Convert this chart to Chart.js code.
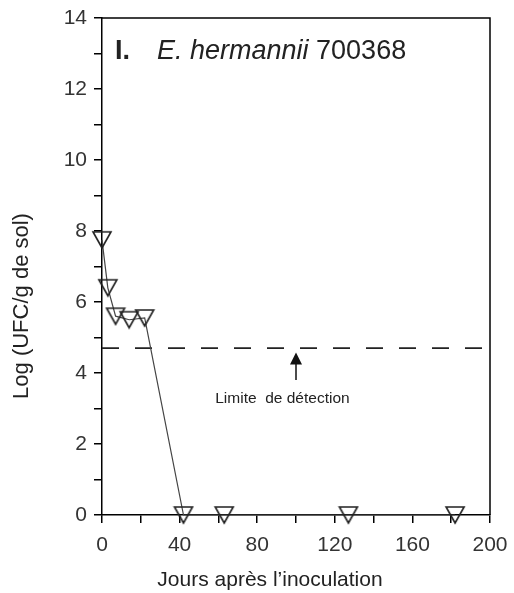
<!DOCTYPE html>
<html>
<head>
<meta charset="utf-8">
<script src="https://cdn.jsdelivr.net/npm/chart.js@4.4.0/dist/chart.umd.min.js"></script>
<style>
  html, body { margin: 0; padding: 0; background: #fff; }
  #wrap { width: 514px; height: 593px; }
</style>
</head>
<body>
<div id="wrap"><canvas id="chart" width="514" height="593"></canvas></div>
<script>
// --- data ---
const days = [0, 3, 7, 14, 22, 42, 63, 127, 182];
const logCfu = [7.75, 6.4, 5.6, 5.5, 5.55, 0, 0, 0, 0];
const detectionLimit = 4.7;
const xTicks = [0, 40, 80, 120, 160, 200];
const yTicks = [0, 2, 4, 6, 8, 10, 12, 14];

// arrow + note for the detection limit
const arrowX = 100, arrowFrom = 3.8, arrowTo = 4.58;
const noteX = 93, noteY = 3.27;
const noteText = 'Limite  de détection';

const xTitle = 'Jours après l\u2019inoculation';
const yTitle = 'Log (UFC/g de sol)';

const TEXT = '#222';
const FONT = 'Liberation Sans, Arial, sans-serif';

// open down-pointing triangle, centred on its bounding box
function makeTriangle() {
  const c = document.createElement('canvas');
  c.width = 22; c.height = 20;
  const g = c.getContext('2d');
  g.strokeStyle = '#222';
  g.lineWidth = 1.6;
  g.beginPath();
  g.moveTo(2, 2);
  g.lineTo(20, 2);
  g.lineTo(11, 18);
  g.closePath();
  g.stroke();
  return c;
}

// frame, titles, arrow and note
const extras = {
  id: 'extras',
  afterDatasetsDraw(chart) {
    const { ctx, chartArea: a, scales: { x, y } } = chart;
    ctx.save();
    // top and right edges of the box
    ctx.strokeStyle = '#000';
    ctx.lineWidth = 1.5;
    ctx.beginPath();
    ctx.moveTo(a.left, a.top);
    ctx.lineTo(a.right, a.top);
    ctx.lineTo(a.right, a.bottom);
    ctx.stroke();

    // panel title
    ctx.fillStyle = TEXT;
    ctx.textBaseline = 'alphabetic';
    ctx.textAlign = 'left';
    let tx = a.left + 13, ty = a.top + 41;
    ctx.font = 'bold 27px ' + FONT;
    ctx.fillText('I.', tx, ty);
    tx = a.left + 55;
    ctx.font = 'italic 27px ' + FONT;
    ctx.fillText('E. hermannii', tx, ty);
    tx += ctx.measureText('E. hermannii ').width;
    ctx.font = '27px ' + FONT;
    ctx.fillText('700368', tx, ty);

    // axis titles (sit a little off-centre in the original)
    ctx.textAlign = 'center';
    ctx.textBaseline = 'middle';
    ctx.font = '21px ' + FONT;
    ctx.fillText(xTitle, a.left + 168, a.bottom + 65);
    ctx.save();
    ctx.translate(22, a.bottom - 209);
    ctx.rotate(-Math.PI / 2);
    ctx.font = '22px ' + FONT;
    ctx.fillText(yTitle, 0, 0);
    ctx.restore();

    // arrow
    const ax = x.getPixelForValue(arrowX);
    const y0 = y.getPixelForValue(arrowFrom);
    const y1 = y.getPixelForValue(arrowTo);
    ctx.strokeStyle = '#111';
    ctx.lineWidth = 1.5;
    ctx.beginPath();
    ctx.moveTo(ax, y0);
    ctx.lineTo(ax, y1 + 8);
    ctx.stroke();
    ctx.fillStyle = '#111';
    ctx.beginPath();
    ctx.moveTo(ax, y1);
    ctx.lineTo(ax - 6, y1 + 12);
    ctx.lineTo(ax + 6, y1 + 12);
    ctx.closePath();
    ctx.fill();

    // note
    ctx.fillStyle = TEXT;
    ctx.font = '15.5px ' + FONT;
    ctx.fillText(noteText, x.getPixelForValue(noteX), y.getPixelForValue(noteY));
    ctx.restore();
  }
};

new Chart(document.getElementById('chart'), {
  type: 'scatter',
  data: {
    datasets: [
      {
        label: 'E. hermannii 700368',
        data: days.map((d, i) => ({ x: d, y: logCfu[i] })),
        showLine: true,
        borderColor: '#444',
        borderWidth: 1.2,
        pointStyle: makeTriangle(),
        pointRadius: 10,
        clip: false
      },
      {
        label: 'Limite de détection',
        data: [{ x: 0, y: detectionLimit }, { x: 200, y: detectionLimit }],
        showLine: true,
        borderColor: '#222',
        borderWidth: 1.6,
        borderDash: [17, 16],
        pointRadius: 0
      }
    ]
  },
  options: {
    responsive: false,
    animation: false,
    layout: { padding: { top: 18, right: 24, left: 0, bottom: 0 } },
    plugins: {
      legend: { display: false },
      tooltip: { enabled: false }
    },
    scales: {
      x: {
        type: 'linear',
        min: 0,
        max: 200,
        afterBuildTicks: s => { s.ticks = []; for (let v = 0; v <= 200; v += 20) s.ticks.push({ value: v }); },
        ticks: {
          autoSkip: false,
          maxRotation: 0,
          color: '#333',
          padding: 10,
          font: { family: FONT, size: 21 },
          callback: v => xTicks.includes(v) ? String(v) : ''
        },
        grid: { drawOnChartArea: false, drawTicks: true, tickLength: 8, color: '#000', lineWidth: 1.5 },
        border: { display: true, color: '#000', width: 1.5 },
        afterFit: s => { s.height = 78; s.paddingLeft = 0; s.paddingRight = 0; }
      },
      y: {
        type: 'linear',
        min: 0,
        max: 14,
        afterBuildTicks: s => { s.ticks = []; for (let v = 0; v <= 14; v += 1) s.ticks.push({ value: v }); },
        ticks: {
          autoSkip: false,
          color: '#333',
          padding: 7,
          font: { family: FONT, size: 21 },
          callback: v => yTicks.includes(v) ? String(v) : ''
        },
        grid: { drawOnChartArea: false, drawTicks: true, tickLength: 8, color: '#000', lineWidth: 1.5 },
        border: { display: true, color: '#000', width: 1.5 },
        afterFit: s => { s.width = 102; s.paddingTop = 0; s.paddingBottom = 0; }
      }
    }
  },
  plugins: [extras]
});
</script>
</body>
</html>
